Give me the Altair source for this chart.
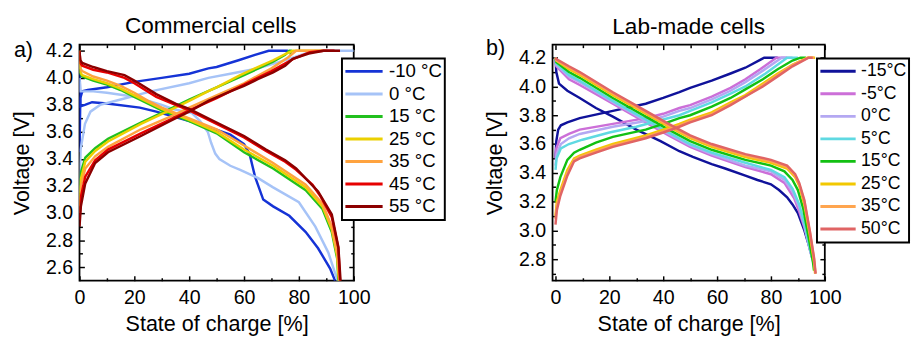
import altair as alt
import pandas as pd

FONT = "Liberation Sans"

# ---------------- panel a : commercial cells ----------------
A_TITLE = "Commercial cells"
A_TAG = "a)"
A_LABELS = ["-10 °C", "0 °C", "15 °C", "25 °C", "35 °C", "45 °C", "55 °C"]
A_COLORS = ["#1533d6", "#a6c3f7", "#22c01e", "#ebd000", "#ffa33f", "#e60000", "#8c0000"]

A_M10_CH = [(0, 3.45), (0.3, 3.85), (1, 3.9), (3, 3.91), (10, 3.93), (20, 3.97), (30, 4.0), (40, 4.03),
            (47, 4.07), (50, 4.08), (58, 4.13), (64, 4.17), (69, 4.2), (76, 4.2)]
A_0_CH = [(0, 3.15), (0.4, 3.47), (2, 3.66), (4, 3.75), (7.5, 3.8), (15, 3.84), (26, 3.9), (40, 3.96),
          (47, 4.0), (55, 4.03), (65, 4.07), (70, 4.1), (76.5, 4.14), (82.5, 4.18), (86, 4.2), (100, 4.2)]
A_15_CH = [(0, 3.1), (0.5, 3.3), (2.1, 3.41), (5.7, 3.48), (10.4, 3.55), (22.4, 3.67), (34, 3.78), (40, 3.84),
           (50, 3.93), (60, 4.02), (70.6, 4.12), (75, 4.17), (76.5, 4.2), (77, 4.2), (77, 4.17)]
A_25_CH = [(0, 3.05), (0.5, 3.25), (2.1, 3.38), (5.7, 3.46), (10.4, 3.53), (22.4, 3.66), (34, 3.77), (40, 3.83),
           (46.8, 3.9), (50, 3.93), (58.6, 4.02), (65, 4.08), (70.6, 4.13), (75.4, 4.18), (77.8, 4.2), (88.6, 4.2)]
A_35_CH = [(0, 3.0), (0.5, 3.2), (2.1, 3.33), (5.7, 3.42), (10.4, 3.49), (22.4, 3.62), (34, 3.72), (40, 3.78),
           (50, 3.87), (60, 3.96), (70, 4.07), (76, 4.15), (79, 4.2), (90, 4.2)]
A_45_CH = [(0, 2.95), (0.5, 3.12), (2.1, 3.27), (5.7, 3.39), (10.4, 3.47), (22.4, 3.59), (34, 3.7), (40, 3.76),
           (50, 3.85), (60, 3.95), (70, 4.05), (78, 4.14), (84, 4.19), (89, 4.2), (93, 4.2)]
A_55_CH = [(0, 2.9), (0.5, 3.05), (2.1, 3.22), (5.7, 3.37), (10.4, 3.45), (22.4, 3.57), (34, 3.69), (40, 3.75),
           (47, 3.83), (55, 3.9), (60, 3.94), (65, 3.99), (70.6, 4.04), (75, 4.09), (77.8, 4.14), (83.6, 4.18),
           (89, 4.2), (95, 4.2)]

A_M10_DIS = [(0, 4.1), (0.3, 3.79), (2, 3.8), (4.6, 3.82), (10, 3.81), (22, 3.78), (28, 3.75), (35, 3.71),
             (42, 3.67), (48, 3.63), (55, 3.58), (60, 3.51), (62, 3.44), (64, 3.27), (67, 3.1), (70.6, 3.05),
             (76.5, 2.98), (82.5, 2.86), (87, 2.74), (91.4, 2.59), (93.2, 2.5)]
A_0_DIS = [(0, 4.0), (0.3, 3.9), (5, 3.9), (10, 3.89), (20, 3.86), (30, 3.8), (34, 3.77), (41, 3.74),
           (44, 3.68), (46.8, 3.6), (48, 3.52), (49.5, 3.44), (51, 3.4), (55, 3.35), (58.6, 3.32), (65, 3.26),
           (70.6, 3.19), (80, 3.08), (86, 2.9), (90.7, 2.71), (93.8, 2.52), (94.2, 2.5)]
A_15_DIS = [(0, 4.2), (0.3, 4.03), (1, 4.01), (5, 3.98), (10, 3.95), (15, 3.91), (20, 3.86), (25, 3.81),
            (30, 3.76), (40, 3.68), (50, 3.59), (58.6, 3.47), (60, 3.45), (70.6, 3.33), (82.5, 3.17),
            (88.6, 3.03), (92, 2.86), (94, 2.66), (94.4, 2.5)]
A_25_DIS = [(0, 4.2), (0.3, 4.04), (1, 4.02), (5, 3.99), (10, 3.96), (15, 3.92), (20, 3.87), (25, 3.82),
            (30, 3.77), (40, 3.69), (50, 3.6), (60, 3.47), (70.6, 3.35), (82.5, 3.19), (88.6, 3.05),
            (92, 2.88), (94, 2.68), (94.6, 2.5)]
A_35_DIS = [(0, 4.2), (0.3, 4.07), (1, 4.05), (5, 4.01), (10, 3.98), (15, 3.94), (20, 3.89), (25, 3.83),
            (30, 3.78), (40, 3.7), (50, 3.62), (60, 3.5), (70.6, 3.37), (82.5, 3.21), (88.6, 3.07),
            (92, 2.9), (94, 2.7), (94.8, 2.5)]
A_45_DIS = [(0, 4.2), (0.3, 4.11), (1, 4.09), (5, 4.06), (10, 4.04), (16.4, 4.0), (20, 3.96), (28, 3.86),
            (35, 3.8), (40, 3.76), (50, 3.66), (60, 3.56), (68, 3.46), (75, 3.38), (79, 3.32), (85, 3.21),
            (88, 3.12), (92, 2.97), (94.4, 2.74), (95, 2.5)]
A_55_DIS = [(0, 4.2), (0.3, 4.13), (1, 4.11), (5, 4.08), (10, 4.05), (16.4, 4.02), (20, 3.98), (28, 3.88),
            (35, 3.81), (40, 3.77), (50, 3.67), (60, 3.57), (68, 3.47), (75, 3.39), (79, 3.33), (87, 3.16),
            (92, 2.99), (94.4, 2.75), (95.2, 2.5)]

A_CHARGE = [A_M10_CH, A_0_CH, A_15_CH, A_25_CH, A_35_CH, A_45_CH, A_55_CH]
A_DISCHARGE = [A_M10_DIS, A_0_DIS, A_15_DIS, A_25_DIS, A_35_DIS, A_45_DIS, A_55_DIS]

A_X_MAJOR = [0, 20, 40, 60, 80, 100]
A_X_MINOR = [10, 30, 50, 70, 90]
A_Y_MAJOR = [2.6, 2.8, 3.0, 3.2, 3.4, 3.6, 3.8, 4.0, 4.2]
A_Y_MINOR = [2.7, 2.9, 3.1, 3.3, 3.5, 3.7, 3.9, 4.1]

# ---------------- panel b : lab-made cells ----------------
B_TITLE = "Lab-made cells"
B_TAG = "b)"
B_LABELS = ["-15°C", "-5°C", "0°C", "5°C", "15°C", "25°C", "35°C", "50°C"]
B_COLORS = ["#10129a", "#cc6fd8", "#b4a8f2", "#5fd9e2", "#12c012", "#f2c800", "#ffa54f", "#e06464"]

B_M15_CH = [(0, 3.5), (0.3, 3.62), (1, 3.7), (2, 3.73), (4.4, 3.75), (9, 3.78), (21.3, 3.83), (33.5, 3.88),
            (40, 3.92), (46, 3.96), (50, 3.99), (58, 4.04), (65, 4.09), (70.5, 4.13), (76.5, 4.19), (77.5, 4.2),
            (82.5, 4.2)]
B_M5_CH = [(0, 3.5), (0.3, 3.57), (1.8, 3.64), (5, 3.67), (9, 3.7), (21.3, 3.74), (33.5, 3.78), (40, 3.81),
           (46, 3.85), (50, 3.87), (58, 3.93), (65, 3.99), (70.5, 4.05), (76, 4.12), (82, 4.2), (86, 4.2)]
B_0_CH = [(0, 3.45), (0.4, 3.53), (2, 3.6), (5, 3.64), (9, 3.67), (21.3, 3.72), (33.5, 3.76), (40, 3.79),
          (46, 3.83), (50, 3.85), (58, 3.91), (65, 3.97), (70.5, 4.03), (77, 4.11), (84, 4.2), (88, 4.2)]
B_5_CH = [(0, 3.42), (0.4, 3.5), (2, 3.57), (5, 3.6), (10, 3.63), (20, 3.68), (30, 3.72), (40, 3.77),
          (46, 3.8), (50, 3.83), (58, 3.89), (65, 3.95), (70.5, 4.0), (78, 4.09), (86, 4.2), (90, 4.2)]
B_15_CH = [(0, 3.2), (0.5, 3.28), (1.8, 3.37), (4.4, 3.49), (6.9, 3.54), (9, 3.56), (15, 3.61), (21.3, 3.65),
           (33.5, 3.7), (40, 3.74), (46, 3.78), (50, 3.8), (58, 3.86), (65, 3.92), (70.5, 3.98), (77, 4.05),
           (82.5, 4.12), (88, 4.18), (91, 4.2), (93, 4.2)]
B_25_CH = [(0, 3.1), (0.5, 3.2), (1.8, 3.28), (4.4, 3.42), (6.9, 3.5), (9, 3.52), (15, 3.56), (21.3, 3.6),
           (33.5, 3.66), (40, 3.7), (46, 3.74), (50, 3.77), (58, 3.82), (65, 3.89), (70.5, 3.94), (77, 4.02),
           (82.5, 4.09), (88, 4.15), (93.5, 4.2), (96.4, 4.2)]
B_35_CH = [(0, 3.08), (0.5, 3.17), (1.8, 3.26), (4.4, 3.4), (6.9, 3.49), (9, 3.51), (15, 3.55), (21.3, 3.59),
           (33.5, 3.65), (40, 3.69), (46, 3.73), (50, 3.76), (58, 3.81), (65, 3.88), (70.5, 3.93), (77, 4.01),
           (82.5, 4.08), (88, 4.15), (93.8, 4.2), (96, 4.2)]
B_50_CH = [(0, 3.04), (0.5, 3.14), (1.8, 3.24), (4.4, 3.38), (6.9, 3.48), (9, 3.5), (15, 3.54), (21.3, 3.58),
           (33.5, 3.64), (40, 3.68), (46, 3.72), (50, 3.75), (58, 3.8), (65, 3.87), (70.5, 3.93), (77, 4.0),
           (82.5, 4.07), (88, 4.14), (94, 4.2), (95.5, 4.2)]

B_M15_DIS = [(0, 4.2), (0.3, 4.1), (1.3, 4.02), (4.4, 3.97), (9, 3.92), (15, 3.85), (21.3, 3.79), (30, 3.7),
             (39, 3.62), (46, 3.55), (51, 3.51), (58, 3.46), (63, 3.43), (70.5, 3.38), (75, 3.35), (80, 3.32),
             (83, 3.28), (86, 3.23), (88, 3.18), (90, 3.12), (92.4, 3.0), (94, 2.9), (95.3, 2.81)]
B_M5_DIS = [(0, 4.2), (0.3, 4.14), (5, 4.05), (9, 4.01), (21.3, 3.88), (33.5, 3.75), (42, 3.66), (50, 3.58),
            (58, 3.52), (70.5, 3.44), (80, 3.39), (85, 3.33), (88.7, 3.22), (90.5, 3.13), (92.4, 3.02),
            (94.5, 2.87), (96, 2.78)]
B_0_DIS = [(0, 4.2), (0.3, 4.15), (5, 4.07), (9, 4.03), (21.3, 3.89), (33.5, 3.76), (42, 3.67), (50, 3.59),
           (58, 3.53), (70.5, 3.45), (80, 3.41), (85, 3.35), (88, 3.27), (90.5, 3.16), (92.5, 3.03),
           (94.5, 2.86), (95.8, 2.77)]
B_5_DIS = [(0, 4.2), (0.3, 4.16), (5, 4.08), (9, 4.04), (21.3, 3.9), (33.5, 3.77), (42, 3.68), (50, 3.6),
           (58, 3.54), (70.5, 3.47), (80, 3.42), (85, 3.37), (88, 3.29), (90.5, 3.18), (92.5, 3.04),
           (94.5, 2.87), (95.8, 2.78)]
B_15_DIS = [(0, 4.2), (0.3, 4.17), (5, 4.1), (9, 4.06), (21.3, 3.92), (33.5, 3.79), (42, 3.7), (50, 3.62),
            (58, 3.56), (70.5, 3.49), (80, 3.45), (85, 3.41), (88, 3.35), (90, 3.28), (92, 3.15), (94, 2.95),
            (95.6, 2.78), (96, 2.72)]
B_25_DIS = [(0, 4.2), (0.3, 4.18), (5, 4.12), (9, 4.08), (21.3, 3.94), (33.5, 3.81), (42, 3.72), (50, 3.64),
            (58, 3.58), (70.5, 3.51), (80, 3.47), (86, 3.43), (89, 3.37), (90.5, 3.31), (92.4, 3.18),
            (94.5, 2.96), (96, 2.78), (96.4, 2.7)]
B_35_DIS = [(0, 4.2), (0.3, 4.18), (5, 4.13), (9, 4.09), (21.3, 3.95), (33.5, 3.82), (42, 3.73), (50, 3.65),
            (58, 3.59), (70.5, 3.52), (80, 3.48), (86, 3.44), (89, 3.38), (90.5, 3.32), (92.4, 3.2),
            (94.5, 2.98), (96, 2.8), (96.5, 2.7)]
B_50_DIS = [(0, 4.2), (0.3, 4.19), (5, 4.14), (9, 4.1), (21.3, 3.96), (33.5, 3.83), (42, 3.74), (50, 3.66),
            (58, 3.6), (70.5, 3.53), (80, 3.49), (86, 3.45), (89, 3.39), (90.5, 3.33), (92.4, 3.21),
            (94.5, 2.99), (96, 2.81), (96.6, 2.7)]

B_CHARGE = [B_M15_CH, B_M5_CH, B_0_CH, B_5_CH, B_15_CH, B_25_CH, B_35_CH, B_50_CH]
B_DISCHARGE = [B_M15_DIS, B_M5_DIS, B_0_DIS, B_5_DIS, B_15_DIS, B_25_DIS, B_35_DIS, B_50_DIS]

B_X_MAJOR = [0, 20, 40, 60, 80, 100]
B_X_MINOR = [10, 30, 50, 70, 90]
B_Y_MAJOR = [2.8, 3.0, 3.2, 3.4, 3.6, 3.8, 4.0, 4.2]
B_Y_MINOR = [2.7, 2.9, 3.1, 3.3, 3.5, 3.7, 3.9, 4.1]


def build(labels, charge, discharge):
    rows = []
    for lab, ch, dis in zip(labels, charge, discharge):
        for kind, pts in (("charge", ch), ("discharge", dis)):
            for i, (s, v) in enumerate(pts):
                rows.append({"temp": lab, "curve": f"{lab} {kind}", "i": i, "soc": s, "v": v})
    return pd.DataFrame(rows)


def axis(orient, values, size, labels=False, title=None, fmt=None):
    kw = dict(orient=orient, values=values, tickSize=size, offset=-size, domain=False, grid=False,
              ticks=True, tickColor="black", tickWidth=1.5, labels=labels, title=title, minExtent=0)
    if labels:
        kw.update(labelFont=FONT, labelFontSize=20, labelColor="black", labelPadding=7,
                  labelFlush=False, labelOverlap=False, format=fmt)
    if title:
        kw.update(titleFont=FONT, titleFontSize=22, titleColor="black", titleFontWeight="normal",
                  titlePadding=12 if orient == "left" else 7)
    return alt.Axis(**kw)


def label_layer(text, px, py, size, align):
    return alt.Chart(pd.DataFrame({"t": [text]})).mark_text(
        font=FONT, fontSize=size, align=align, baseline="alphabetic", color="black"
    ).encode(x=alt.value(px), y=alt.value(py), text="t:N")


def panel(df, labels, colors, xdom, ydom, xmaj, xmin, ymaj, ymin, w, h, title, title_x, title_y,
          tag, tag_x, tag_y, lx, ly, sym_len, lab_size, lab_off, clip_h):
    xs = alt.Scale(domain=xdom, nice=False, zero=False)
    ys = alt.Scale(domain=ydom, nice=False, zero=False)
    legend = alt.Legend(orient="none", legendX=lx, legendY=ly, title=None, symbolType="stroke",
                        symbolSize=sym_len * sym_len, symbolStrokeWidth=3, labelFont=FONT,
                        labelFontSize=lab_size, labelColor="black", labelOffset=lab_off, padding=2,
                        rowPadding=0, clipHeight=clip_h, strokeColor="black", fillColor="white",
                        labelLimit=300)
    lines = alt.Chart(df).mark_line(strokeWidth=2.5, clip=True).encode(
        x=alt.X("soc:Q", scale=xs, axis=axis("bottom", xmaj, 5, True, "State of charge [%]", "d")),
        y=alt.Y("v:Q", scale=ys, axis=axis("left", ymaj, 5, True, "Voltage [V]", ".1f")),
        color=alt.Color("temp:N", scale=alt.Scale(domain=labels, range=colors), legend=legend),
        detail="curve:N",
        order="i:Q",
    )

    def ghost(xo, xv, xsz, yo, yv, ysz):
        return alt.Chart(df).mark_point(opacity=0).encode(
            x=alt.X("soc:Q", scale=xs, axis=axis(xo, xv, xsz)),
            y=alt.Y("v:Q", scale=ys, axis=axis(yo, yv, ysz)),
        )

    top_right = ghost("top", xmaj, 5, "right", ymaj, 5)
    minor_bl = ghost("bottom", xmin, 3, "left", ymin, 3)
    minor_tr = ghost("top", xmin, 3, "right", ymin, 3)
    tag_layer = label_layer(tag, tag_x, tag_y, 22, "left")
    title_layer = label_layer(title, title_x, title_y, 23, "center")

    return alt.layer(lines, top_right, minor_bl, minor_tr, tag_layer, title_layer).resolve_axis(
        x="independent", y="independent"
    ).properties(width=w, height=h)


df_a = build(A_LABELS, A_CHARGE, A_DISCHARGE)
df_b = build(B_LABELS, B_CHARGE, B_DISCHARGE)

pa = panel(df_a, A_LABELS, A_COLORS, [0, 100], [2.5, 4.245], A_X_MAJOR, A_X_MINOR, A_Y_MAJOR, A_Y_MINOR,
           280, 241, A_TITLE, 134, -12, A_TAG, -67, 13, 268, 14, 38, 19, 5, 22.5)
pb = panel(df_b, B_LABELS, B_COLORS, [-1.1, 100], [2.65, 4.29], B_X_MAJOR, B_X_MINOR, B_Y_MAJOR, B_Y_MINOR,
           278, 241, B_TITLE, 139, -11, B_TAG, -68, 11, 270, 14, 36, 18, 4, 22.3)

chart = alt.hconcat(pa, pb, spacing=37).resolve_scale(color="independent").configure_view(
    stroke="black", strokeWidth=1.8
).configure_legend(strokeWidth=2).properties(
    padding={"left": 2, "top": 3, "right": 0, "bottom": 0}
)

chart.save("out.html", embed_options={"renderer": "svg", "actions": False})
